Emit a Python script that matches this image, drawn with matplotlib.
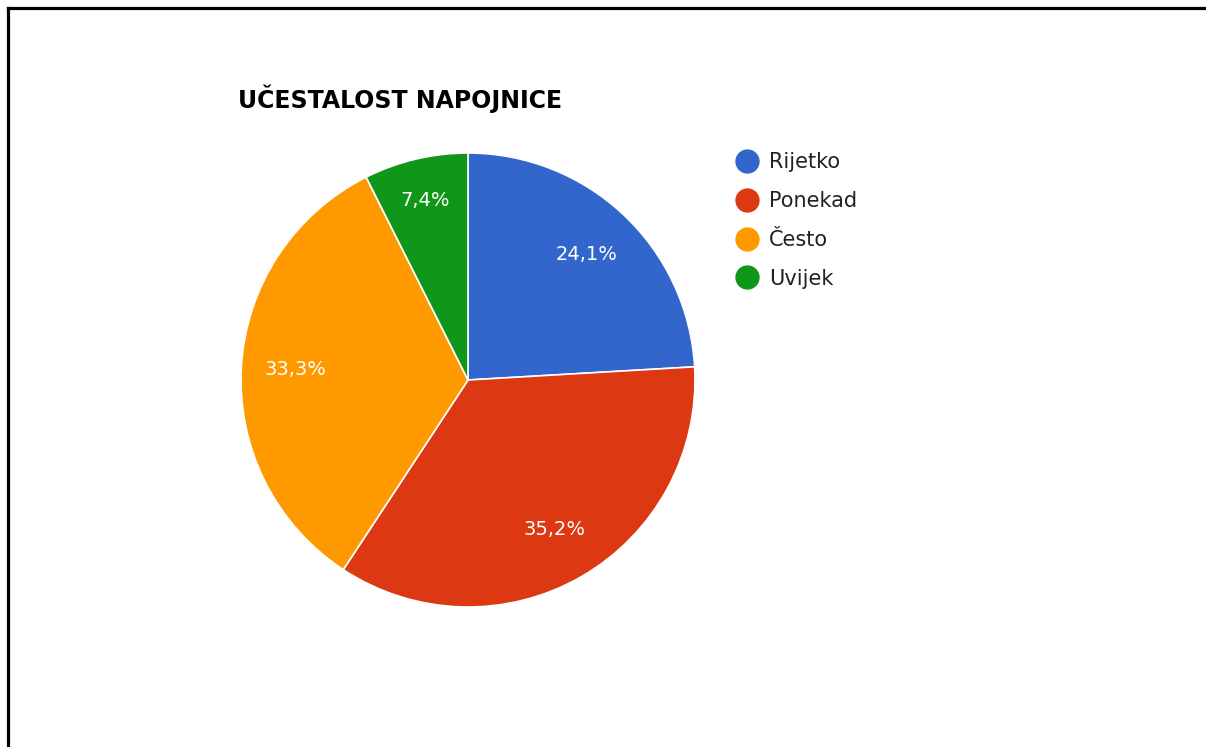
import matplotlib.pyplot as plt
from matplotlib.lines import Line2D

# DATA
categories = ['Rijetko', 'Ponekad', 'Često', 'Uvijek']
counts = [13, 19, 18, 4]
pct_labels = ['24,1%', '35,2%', '33,3%', '7,4%']
colors = ['#3366cc', '#dc3912', '#ff9900', '#109618']

W, H = 1206, 747
plt.rcParams['font.family'] = ['DejaVu Sans']

fig = plt.figure(figsize=(W / 100, H / 100), dpi=100)

# pie centre (468, 380), radius 227 px
cx, cy, r = 468, 380, 227
ax = fig.add_axes([(cx - r) / W, (H - cy - r) / H, 2 * r / W, 2 * r / H])
wedges, texts = ax.pie(counts, colors=colors, startangle=90, counterclock=False,
                       labels=pct_labels, labeldistance=0.76,
                       wedgeprops=dict(edgecolor='white', linewidth=1.2),
                       textprops=dict(color='white', fontsize=14))
for t in texts:
    t.set_ha('center')
    t.set_va('center')
# small slice label sits a bit further out
x, y = texts[3].get_position()
texts[3].set_position((x * 1.07, y * 1.07))
ax.set_xlim(-1, 1)
ax.set_ylim(-1, 1)
ax.set_aspect('equal')
ax.axis('off')

fig.text(238 / W, 1 - 99 / H, 'UČESTALOST NAPOJNICE', fontsize=17,
         fontweight='bold', ha='left', va='center', color='black')

handles = [Line2D([], [], marker='o', linestyle='none', markersize=16.5,
                  markerfacecolor=c, markeredgecolor=c) for c in colors]
leg = fig.legend(handles, categories, loc='upper left',
                 bbox_to_anchor=(726 / W, 1 - 144 / H), frameon=False,
                 fontsize=15, labelspacing=0.9, handletextpad=0.45,
                 handlelength=1.2, borderaxespad=0)
for t in leg.get_texts():
    t.set_color('#222222')

# frame lines: left and top only
fig.add_artist(Line2D([8 / W, 8 / W], [0, 1 - 8 / H], color='black',
                      linewidth=2.3, transform=fig.transFigure))
fig.add_artist(Line2D([8 / W, 1204 / W], [1 - 8 / H, 1 - 8 / H], color='black',
                      linewidth=2.3, transform=fig.transFigure))

fig.savefig('out.png', dpi=100)
